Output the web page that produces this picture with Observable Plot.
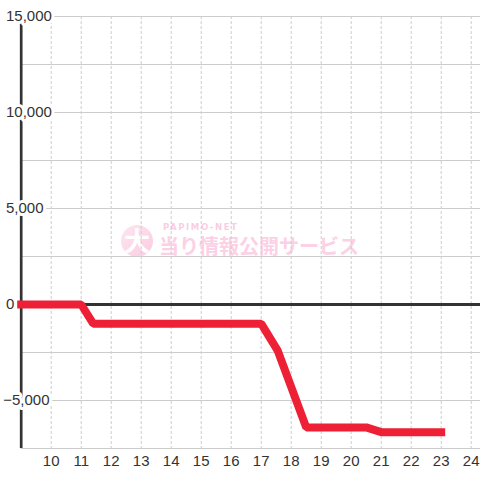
<!DOCTYPE html>
<html>
<head>
<meta charset="utf-8">
<script src="https://cdn.jsdelivr.net/npm/d3@7"></script>
<script src="https://cdn.jsdelivr.net/npm/@observablehq/plot@0.6"></script>
<style>
  html, body { margin: 0; padding: 0; background: #fff; }
  #chart { width: 480px; height: 480px; }
</style>
</head>
<body>
<div id="chart"></div>
<script>
// Data: hour of day and cumulative difference
const hours = [9.0, 11.0, 11.4, 17.0, 17.55, 18.5, 20.5, 21.0, 23.0];
const values = [0, 0, -1000, -1000, -2400, -6400, -6400, -6650, -6650];
const xTicks = [10, 11, 12, 13, 14, 15, 16, 17, 18, 19, 20, 21, 22, 23, 24];
const yGrid = [-7500, -5000, -2500, 0, 2500, 5000, 7500, 10000, 12500, 15000];
const yLabels = [15000, 10000, 5000, 0, -5000];

const series = hours.map((h, i) => ({h, v: values[i]}));
const fmt = d3.format(",");
const font = "'Liberation Sans', Arial, sans-serif";

const plot = Plot.plot({
  width: 480,
  height: 480,
  marginLeft: 20.7,
  marginRight: 0,
  marginTop: 16,
  marginBottom: 32,
  style: {background: "white", fontFamily: font, overflow: "visible"},
  x: {domain: [9, 9 + 459.3 / 30], axis: null},
  y: {domain: [-7500, 15000], axis: null},
  marks: [
    Plot.ruleY(yGrid, {stroke: "#cccccc", strokeWidth: 1}),
    Plot.ruleX(xTicks, {stroke: "#cccccc", strokeWidth: 1, strokeDasharray: "3,2"}),
    Plot.ruleX([9], {stroke: "#333333", strokeWidth: 2.7}),
    Plot.text(yLabels.filter(d => d >= 0), {
      y: d => d, text: d => fmt(d), frameAnchor: "left", textAnchor: "start",
      dx: -15.2, fill: "#333333", fontSize: 15, stroke: "white", strokeWidth: 6,
      fontFamily: font
    }),
    Plot.text(yLabels.filter(d => d < 0), {
      y: d => d, text: d => fmt(d), frameAnchor: "left", textAnchor: "start",
      dx: -18, fill: "#333333", fontSize: 15, stroke: "white", strokeWidth: 6,
      fontFamily: font
    }),
    Plot.ruleY([0], {stroke: "#333333", strokeWidth: 3}),
    Plot.line(series, {
      x: "h", y: "v", stroke: "#ee2035", strokeWidth: 8,
      strokeLinecap: "square", strokeLinejoin: "miter", curve: "linear"
    }),
    Plot.text(xTicks, {
      x: d => d, text: d => String(d), frameAnchor: "bottom", dy: 13,
      lineAnchor: "middle", fill: "#333333", fontSize: 15, fontFamily: font
    })
  ]
});

document.getElementById("chart").appendChild(plot);

// Watermark (decoration) inserted beneath all marks
const firstMark = plot.querySelector("g");
const wm = document.createElementNS("http://www.w3.org/2000/svg", "g");
plot.insertBefore(wm, firstMark);
const w = d3.select(wm).attr("text-anchor", "start");
const defs = w.append("defs");
const grad = defs.append("linearGradient").attr("id", "wmgrad")
  .attr("x1", "0").attr("y1", "0").attr("x2", "1").attr("y2", "1");
grad.append("stop").attr("offset", "0").attr("stop-color", "#fde6f1");
grad.append("stop").attr("offset", "1").attr("stop-color", "#fbcbe1");
w.append("circle").attr("cx", 137).attr("cy", 241).attr("r", 16).attr("fill", "url(#wmgrad)");
w.append("text").attr("x", 137).attr("y", 251).attr("text-anchor", "middle")
  .attr("font-family", "'Noto Sans CJK JP', sans-serif").attr("font-weight", "bold")
  .attr("font-size", 26).attr("fill", "white").text("大");
w.append("text").attr("x", 163).attr("y", 230).attr("text-anchor", "start")
  .attr("font-family", "'DejaVu Sans', sans-serif").attr("font-weight", "bold")
  .attr("font-size", 8.5).attr("letter-spacing", 1.6).attr("fill", "#f9cde2").text("PAPIMO-NET");
w.append("text").attr("x", 159).attr("y", 254).attr("text-anchor", "start")
  .attr("font-family", "'Noto Sans CJK JP', sans-serif").attr("font-weight", "bold")
  .attr("font-size", 20).attr("fill", "#fcd0e5").text("当り情報公開サービス");
</script>
</body>
</html>
